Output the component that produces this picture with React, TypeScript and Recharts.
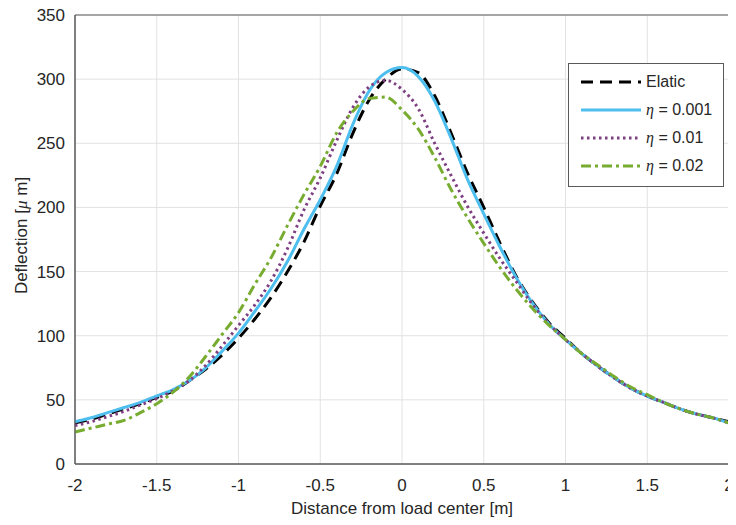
import React from 'react';
import { LineChart, Line, XAxis, YAxis, CartesianGrid, ReferenceArea, Legend } from 'recharts';

const xs = [
  -2, -1.9, -1.8, -1.7, -1.6, -1.5, -1.4, -1.3, -1.2, -1.1, -1, -0.9, -0.8, -0.7, -0.6, -0.5, -0.4, -0.3, -0.2, -0.1,
  0, 0.1, 0.2, 0.3, 0.4, 0.5, 0.6, 0.7, 0.8, 0.9, 1, 1.1, 1.2, 1.3, 1.4, 1.5, 1.6, 1.7, 1.8, 1.9, 2,
];

const elastic = [
  32, 35, 39, 43, 47, 52, 57, 65, 74, 85, 98, 113, 130, 150, 173, 201, 226, 258, 284, 300,
  308, 305, 287, 258, 227, 200, 172, 146, 126, 110, 98, 86, 76, 67, 59, 53, 48, 43, 39, 36, 33,
];
const eta001 = [
  33, 36, 40, 44, 48, 53, 58, 65, 75, 88, 102, 119, 137, 158, 183, 206, 232, 265, 291, 305,
  309, 302, 283, 254, 222, 195, 169, 145, 125, 109, 97, 86, 76, 67, 59, 53, 48, 43, 39, 36, 32,
];
const eta01 = [
  30, 33, 37, 41, 46, 51, 57, 65, 77, 92, 108, 124, 143, 168, 198, 223, 252, 278, 294, 299,
  292, 277, 250, 225, 201, 180, 160, 142, 124, 109, 97, 86, 76, 67, 59, 53, 48, 43, 39, 36, 32,
];
const eta02 = [
  25, 28, 31, 34, 40, 47, 56, 68, 84, 101, 118, 140, 161, 186, 210, 232, 258, 275, 285, 286,
  276, 261, 239, 214, 192, 172, 153, 136, 121, 108, 97, 86, 77, 68, 60, 54, 48, 43, 39, 36, 32,
];

const xTicks = [-2, -1.5, -1, -0.5, 0, 0.5, 1, 1.5, 2];
const yTicks = [0, 50, 100, 150, 200, 250, 300, 350];

const series = [
  { key: 'elastic', name: 'Elatic', eta: '', color: '#000000', dash: '12 7' },
  { key: 'eta001', name: ' = 0.001', eta: 'η', color: '#4DBEEE', dash: undefined },
  { key: 'eta01', name: ' = 0.01', eta: 'η', color: '#7E3F82', dash: '2.5 3.5' },
  { key: 'eta02', name: ' = 0.02', eta: 'η', color: '#77AC30', dash: '10 4 3 4' },
];

const data = xs.map((x, i) => ({
  x,
  elastic: elastic[i],
  eta001: eta001[i],
  eta01: eta01[i],
  eta02: eta02[i],
}));

const font = '"Liberation Sans", Arial, Helvetica, sans-serif';
const textColor = '#262626';
const axisColor = '#5a5a5a';

const LegendBox = () => (
  <div
    style={{
      width: 156,
      boxSizing: 'border-box',
      border: `1px solid ${axisColor}`,
      background: '#fff',
      padding: '4px 0 6px 0',
      fontFamily: font,
      fontSize: 16,
      color: textColor,
    }}
  >
    {series.map((s) => (
      <div key={s.key} style={{ display: 'flex', alignItems: 'center', height: 28 }}>
        <svg width={72} height={10} style={{ flex: 'none' }}>
          <line
            x1={12}
            x2={72}
            y1={5}
            y2={5}
            stroke={s.color}
            strokeWidth={3}
            strokeDasharray={s.dash}
          />
        </svg>
        <span style={{ marginLeft: 5, whiteSpace: 'nowrap' }}>
          {s.eta && (
            <span style={{ fontFamily: '"Liberation Serif", "DejaVu Serif", serif', fontStyle: 'italic' }}>
              {s.eta}
            </span>
          )}
          {s.name}
        </span>
      </div>
    ))}
  </div>
);

const XLabel = (props: any) => {
  const vb = props.viewBox;
  return (
    <text
      x={vb.x + vb.width / 2}
      y={vb.y + 50}
      textAnchor="middle"
      fontFamily={font}
      fontSize={17}
      fill={textColor}
    >
      Distance from load center [m]
    </text>
  );
};

const YLabel = (props: any) => {
  const vb = props.viewBox;
  const cx = vb.x + 27;
  const cy = vb.y + vb.height / 2 - 4;
  return (
    <text
      x={cx}
      y={cy}
      transform={`rotate(-90 ${cx} ${cy})`}
      textAnchor="middle"
      fontFamily={font}
      fontSize={17}
      fill={textColor}
    >
      Deflection [
      <tspan fontFamily='"Liberation Serif", "DejaVu Serif", serif' fontStyle="italic">
        μ
      </tspan>{' '}
      m]
    </text>
  );
};

export default function App() {
  return (
    <div style={{ margin: -8, width: 736, height: 525, background: '#fff' }}>
      <LineChart width={736} height={525} data={data} margin={{ top: 15, right: 7, bottom: 0, left: 0 }}>
        <CartesianGrid stroke="#e2e2e2" strokeWidth={1} />
        <XAxis
          dataKey="x"
          type="number"
          domain={[-2, 2]}
          ticks={xTicks}
          interval={0}
          height={61}
          tickLine={false}
          tickSize={0}
          tickMargin={15}
          axisLine={{ stroke: axisColor }}
          tick={{ fontFamily: font, fontSize: 17, fill: textColor }}
          label={XLabel}
        />
        <YAxis
          type="number"
          domain={[0, 350]}
          ticks={yTicks}
          interval={0}
          width={75}
          tickLine={false}
          tickSize={0}
          tickMargin={10}
          axisLine={{ stroke: axisColor }}
          tick={{ fontFamily: font, fontSize: 17, fill: textColor }}
          label={YLabel}
        />
        <ReferenceArea x1={-2} x2={2} y1={0} y2={350} fill="none" stroke={axisColor} strokeWidth={1} />
        {series.map((s) => (
          <Line
            key={s.key}
            dataKey={s.key}
            name={s.name}
            type="monotone"
            stroke={s.color}
            strokeWidth={3}
            strokeDasharray={s.dash}
            dot={false}
            activeDot={false}
            isAnimationActive={false}
          />
        ))}
        <Legend
          layout="vertical"
          align="center"
          verticalAlign="middle"
          wrapperStyle={{ top: 63, left: 568, width: 156 }}
          content={() => <LegendBox />}
        />
      </LineChart>
    </div>
  );
}
